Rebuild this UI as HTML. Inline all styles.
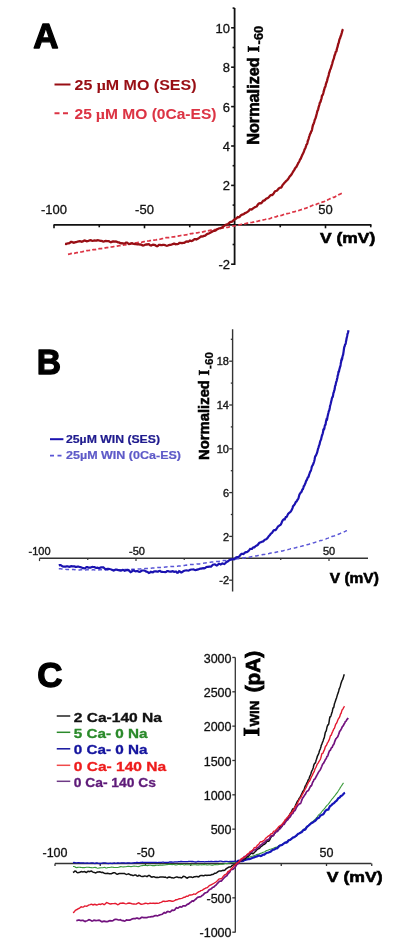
<!DOCTYPE html>
<html><head><meta charset="utf-8"><title>Figure</title><style>
html,body{margin:0;padding:0;background:#fff;}
svg{display:block;will-change:transform;}
text{font-family:"Liberation Sans",sans-serif;}
.big{font-size:35px;font-weight:bold;fill:#000;stroke:#000;stroke-width:1.3px;stroke-linejoin:round;}
.legA{font-size:14px;font-weight:bold;stroke:currentColor;stroke-width:0.05px;}
.legB{font-size:11px;font-weight:bold;stroke:currentColor;stroke-width:0.2px;}
.legC{font-size:12.4px;font-weight:bold;stroke:currentColor;stroke-width:0.3px;}
.mu{font-family:"Liberation Serif",serif;}
.tickA{font-size:13px;fill:#111;stroke:#111;stroke-width:0.3px;}
.tickB{font-size:11px;fill:#1a1a1a;stroke:#1a1a1a;stroke-width:0.4px;}
.tickC{font-size:12.5px;fill:#111;stroke:#111;stroke-width:0.3px;}
.vlab{font-size:15.5px;font-weight:bold;fill:#000;stroke:#000;stroke-width:0.6px;}
.vlabB{font-size:14px;font-weight:bold;fill:#000;stroke:#000;stroke-width:0.55px;}
.ylabA{font-size:16px;font-weight:bold;fill:#000;stroke:#000;stroke-width:0.6px;}
.serifI{font-family:"Liberation Serif",serif;font-weight:bold;font-size:16.5px;stroke:#000;stroke-width:0.6px;}
.subA{font-size:12.5px;font-weight:bold;stroke:#000;stroke-width:0.3px;}
.ylabB{font-size:14px;font-weight:bold;fill:#000;stroke:#000;stroke-width:0.55px;}
.serifIB{font-family:"Liberation Serif",serif;font-weight:bold;font-size:15px;stroke:#000;stroke-width:0.5px;}
.subB{font-size:10.5px;font-weight:bold;stroke:#000;stroke-width:0.25px;}
.ylabC{font-size:20px;font-weight:bold;fill:#000;stroke:#000;stroke-width:0.8px;}
.serifIC{font-family:"Liberation Serif",serif;font-weight:bold;font-size:23px;stroke:#000;stroke-width:0.9px;}
.subC{font-size:12.5px;font-weight:bold;stroke:#000;stroke-width:0.5px;}
</style></head>
<body><svg width="400" height="949" viewBox="0 0 400 949">
<rect width="400" height="949" fill="#fff"/>
<text x="33.2" y="47.6" class="big">A</text>
<line x1="54.5" y1="84.5" x2="70.5" y2="84.5" stroke="#980e14" stroke-width="2"/>
<text x="74.5" y="89.8" class="legA" fill="#980e14" color="#980e14" textLength="122" lengthAdjust="spacingAndGlyphs">25 <tspan class="mu">μ</tspan>M MO (SES)</text>
<line x1="54.5" y1="113.2" x2="70.5" y2="113.2" stroke="#dc3444" stroke-width="2" stroke-dasharray="5,3.5"/>
<text x="74.5" y="118.6" class="legA" fill="#dc3444" color="#dc3444" textLength="142" lengthAdjust="spacingAndGlyphs">25 <tspan class="mu">μ</tspan>M MO (0Ca-ES)</text>
<line x1="234.6" y1="8" x2="234.6" y2="265" stroke="#111" stroke-width="1.8"/>
<line x1="53.6" y1="224.8" x2="371.4" y2="224.8" stroke="#111" stroke-width="1.8"/>
<line x1="231.1" y1="27.80" x2="234.6" y2="27.80" stroke="#111" stroke-width="1.6"/><line x1="231.1" y1="67.20" x2="234.6" y2="67.20" stroke="#111" stroke-width="1.6"/><line x1="231.1" y1="106.60" x2="234.6" y2="106.60" stroke="#111" stroke-width="1.6"/><line x1="231.1" y1="146.00" x2="234.6" y2="146.00" stroke="#111" stroke-width="1.6"/><line x1="231.1" y1="185.40" x2="234.6" y2="185.40" stroke="#111" stroke-width="1.6"/><line x1="231.1" y1="264.20" x2="234.6" y2="264.20" stroke="#111" stroke-width="1.6"/>
<line x1="232.6" y1="8.10" x2="234.6" y2="8.10" stroke="#111" stroke-width="1.6"/><line x1="232.6" y1="47.50" x2="234.6" y2="47.50" stroke="#111" stroke-width="1.6"/><line x1="232.6" y1="86.90" x2="234.6" y2="86.90" stroke="#111" stroke-width="1.6"/><line x1="232.6" y1="126.30" x2="234.6" y2="126.30" stroke="#111" stroke-width="1.6"/><line x1="232.6" y1="165.70" x2="234.6" y2="165.70" stroke="#111" stroke-width="1.6"/><line x1="232.6" y1="205.10" x2="234.6" y2="205.10" stroke="#111" stroke-width="1.6"/><line x1="232.6" y1="244.50" x2="234.6" y2="244.50" stroke="#111" stroke-width="1.6"/>
<line x1="54.00" y1="224.8" x2="54.00" y2="228.3" stroke="#111" stroke-width="1.6"/><line x1="144.50" y1="224.8" x2="144.50" y2="228.3" stroke="#111" stroke-width="1.6"/><line x1="325.50" y1="224.8" x2="325.50" y2="228.3" stroke="#111" stroke-width="1.6"/>
<line x1="99.25" y1="224.8" x2="99.25" y2="227.3" stroke="#111" stroke-width="1.6"/><line x1="189.75" y1="224.8" x2="189.75" y2="227.3" stroke="#111" stroke-width="1.6"/><line x1="280.25" y1="224.8" x2="280.25" y2="227.3" stroke="#111" stroke-width="1.6"/><line x1="370.75" y1="224.8" x2="370.75" y2="227.3" stroke="#111" stroke-width="1.6"/>
<text x="230" y="32.70" class="tickA" text-anchor="end">10</text>
<text x="230" y="72.10" class="tickA" text-anchor="end">8</text>
<text x="230" y="111.50" class="tickA" text-anchor="end">6</text>
<text x="230" y="150.90" class="tickA" text-anchor="end">4</text>
<text x="230" y="190.30" class="tickA" text-anchor="end">2</text>
<text x="230" y="269.10" class="tickA" text-anchor="end">-2</text>
<text x="54.00" y="213.8" class="tickA" text-anchor="middle">-100</text>
<text x="144.50" y="213.8" class="tickA" text-anchor="middle">-50</text>
<text x="325.50" y="213.8" class="tickA" text-anchor="middle">50</text>
<text x="320" y="243.2" class="vlab" textLength="55.2" lengthAdjust="spacingAndGlyphs">V (mV)</text>
<g transform="translate(258.6,144) rotate(-90)"><text x="-0.8" y="0" class="ylabA" textLength="87.5" lengthAdjust="spacingAndGlyphs">Normalized</text><text x="91.8" y="0" class="serifI">I</text><text x="99.6" y="3.9" class="subA" textLength="18.6" lengthAdjust="spacingAndGlyphs">-60</text></g>
<polyline points="68.0,254.3 69.0,254.1 70.0,253.9 70.9,253.6 71.9,253.4 72.9,253.3 73.9,253.3 74.9,253.2 75.8,252.9 76.8,252.7 77.8,252.6 78.8,252.5 79.8,252.2 80.7,252.0 81.7,251.9 82.7,251.7 83.7,251.4 84.7,251.2 85.6,250.9 86.6,250.7 87.6,250.6 88.6,250.5 89.6,250.4 90.6,250.4 91.6,250.3 92.5,249.9 93.5,249.6 94.5,249.5 95.5,249.6 96.5,249.3 97.5,249.1 98.5,248.9 99.4,248.7 100.4,248.7 101.4,248.6 102.4,248.4 103.4,248.3 104.4,248.2 105.4,247.9 106.4,247.7 107.4,247.6 108.3,247.4 109.3,247.2 110.3,247.2 111.3,247.0 112.3,246.8 113.3,246.7 114.3,246.5 115.3,246.4 116.3,246.4 117.3,246.1 118.3,245.8 119.3,245.7 120.3,245.6 121.2,245.4 122.2,245.3 123.2,245.1 124.2,245.0 125.2,244.9 126.2,244.6 127.2,244.4 128.2,244.2 129.2,244.0 130.2,243.8 131.2,243.6 132.2,243.6 133.2,243.6 134.2,243.4 135.2,243.0 136.2,242.8 137.2,242.7 138.2,242.4 139.2,242.3 140.2,242.3 141.1,242.3 142.1,242.1 143.1,241.8 144.1,241.6 145.1,241.5 146.1,241.5 147.1,241.2 148.1,241.0 149.1,240.9 150.1,240.7 151.1,240.4 152.1,240.2 153.1,240.1 154.1,240.1 155.1,240.0 156.1,239.9 157.1,239.6 158.1,239.5 159.1,239.3 160.1,239.2 161.1,239.0 162.1,238.7 163.1,238.5 164.1,238.3 165.1,238.0 166.1,237.7 167.1,237.7 168.1,237.6 169.1,237.7 170.1,237.6 171.1,237.3 172.1,237.0 173.1,236.9 174.1,236.8 175.1,236.6 176.1,236.4 177.1,236.4 178.1,236.1 179.0,235.8 180.0,235.7 181.0,235.5 182.0,235.3 183.0,235.2 184.0,235.1 185.0,235.0 186.0,234.8 187.0,234.6 188.0,234.3 189.0,234.1 190.0,233.8 191.0,233.7 192.0,233.6 193.0,233.4 194.0,233.2 195.0,233.1 196.0,233.0 197.0,232.8 198.0,232.7 199.0,232.5 200.0,232.2 201.0,232.3 201.9,232.2 202.9,231.9 203.9,231.6 204.9,231.3 205.9,231.2 206.9,231.1 207.9,230.9 208.9,230.6 209.9,230.4 210.9,230.2 211.9,230.1 212.9,230.1 213.9,229.9 214.8,229.7 215.8,229.5 216.8,229.2 217.8,229.0 218.8,228.8 219.8,228.7 220.8,228.5 221.8,228.2 222.8,227.9 223.7,227.9 224.7,227.9 225.7,227.5 226.7,227.3 227.7,227.3 228.7,227.1 229.7,226.7 230.7,226.5 231.6,226.3 232.6,226.0 233.6,226.0 234.6,225.9 235.6,225.6 236.6,225.4 237.5,225.2 238.5,225.0 239.5,224.8 240.5,224.5 241.5,224.3 242.5,224.3 243.4,224.1 244.4,223.9 245.4,223.7 246.4,223.4 247.4,223.2 248.3,223.1 249.3,222.8 250.3,222.6 251.3,222.5 252.2,222.4 253.2,222.2 254.2,221.9 255.2,221.5 256.1,221.3 257.1,221.3 258.1,221.1 259.1,220.8 260.0,220.6 261.0,220.5 262.0,220.3 263.0,220.0 263.9,219.7 264.9,219.5 265.9,219.2 266.8,219.0 267.8,218.9 268.8,218.8 269.7,218.6 270.7,218.3 271.7,217.7 272.6,217.4 273.6,217.3 274.6,217.0 275.5,216.9 276.5,216.6 277.5,216.1 278.4,215.8 279.4,215.8 280.4,215.6 281.3,215.4 282.3,215.1 283.2,214.7 284.2,214.4 285.2,214.2 286.1,213.9 287.1,213.6 288.0,213.5 289.0,213.3 289.9,213.0 290.9,212.6 291.8,212.3 292.8,212.0 293.8,211.8 294.7,211.6 295.7,211.3 296.6,211.1 297.6,210.9 298.5,210.6 299.5,210.2 300.4,209.9 301.3,209.6 302.3,209.2 303.2,208.8 304.2,208.6 305.1,208.4 306.1,208.1 307.0,207.7 308.0,207.4 308.9,207.2 309.8,206.7 310.8,206.1 311.7,205.8 312.7,205.3 313.6,204.9 314.5,204.9 315.5,204.8 316.4,204.4 317.3,203.8 318.3,203.5 319.2,203.4 320.1,203.0 321.1,202.6 322.0,202.2 322.9,201.9 323.9,201.6 324.8,201.2 325.7,200.7 326.6,200.2 327.6,199.9 328.5,199.5 329.4,199.1 330.3,198.6 331.3,198.2 332.2,197.8 333.1,197.4 334.0,197.3 334.9,196.9 335.9,196.3 336.8,195.9 337.7,195.3 338.6,194.7 339.5,194.4 340.4,194.1 341.3,193.5 342.2,193.0 343.2,192.6" fill="none" stroke="#dc3444" stroke-width="1.7" stroke-dasharray="4,2.2"/>
<polyline points="65.0,243.9 66.0,244.0 66.9,243.6 67.9,243.4 68.9,243.3 69.9,242.7 70.9,241.9 71.8,241.9 72.8,242.5 73.8,242.7 74.8,242.4 75.8,242.1 76.8,241.8 77.7,241.5 78.7,241.3 79.7,241.1 80.7,241.4 81.7,241.7 82.7,241.4 83.7,240.9 84.7,240.5 85.7,240.8 86.7,241.3 87.7,241.2 88.7,240.8 89.7,240.4 90.7,240.2 91.7,240.6 92.7,240.9 93.7,240.7 94.7,240.5 95.7,240.6 96.7,240.5 97.7,240.2 98.7,240.3 99.7,240.7 100.7,240.9 101.7,240.9 102.7,241.3 103.7,241.6 104.8,241.2 105.8,241.0 106.8,241.2 107.8,241.2 108.8,241.2 109.8,241.8 110.8,242.3 111.8,241.9 112.8,241.5 113.8,241.5 114.9,241.7 115.9,241.5 116.9,241.8 117.9,242.3 118.9,242.4 119.9,242.9 120.9,243.3 121.9,243.1 122.9,243.3 124.0,243.6 125.0,243.2 126.0,242.6 127.0,242.6 128.0,243.3 129.0,244.1 130.0,243.9 131.0,243.3 132.0,243.2 133.0,243.6 134.0,243.9 135.1,244.0 136.1,244.2 137.1,244.3 138.1,244.2 139.1,244.4 140.1,244.5 141.1,244.7 142.1,245.1 143.1,245.6 144.1,245.3 145.1,244.7 146.1,244.4 147.1,244.5 148.1,244.2 149.1,244.4 150.1,245.3 151.1,245.6 152.1,245.0 153.1,244.6 154.1,244.8 155.1,245.1 156.0,245.8 157.0,246.3 158.0,245.7 159.0,244.9 160.0,244.8 161.0,245.1 162.0,245.1 162.9,244.9 163.9,244.9 164.9,245.0 165.9,245.5 166.9,245.8 167.8,245.5 168.8,245.1 169.8,244.9 170.8,244.8 171.7,244.5 172.7,244.2 173.7,243.7 174.6,243.7 175.6,244.2 176.6,244.1 177.5,244.1 178.5,243.8 179.4,242.9 180.4,242.8 181.3,243.1 182.3,243.0 183.2,242.8 184.2,242.8 185.1,242.3 186.1,241.5 187.0,241.4 188.0,241.7 188.9,241.2 189.9,240.6 190.8,240.9 191.7,241.1 192.7,240.6 193.6,239.8 194.5,239.1 195.5,239.1 196.4,239.5 197.3,239.1 198.2,238.5 199.2,237.9 200.1,237.1 201.0,236.5 201.9,236.5 202.9,236.4 203.8,235.9 204.7,235.8 205.6,235.3 206.5,234.4 207.4,233.9 208.4,233.7 209.3,233.3 210.2,232.8 211.1,232.3 212.0,231.8 212.9,231.2 213.8,230.7 214.7,230.8 215.6,230.5 216.5,229.6 217.4,229.2 218.3,228.7 219.2,228.3 220.1,228.2 221.0,227.9 221.9,227.5 222.8,226.7 223.7,226.2 224.6,225.6 225.5,225.0 226.3,224.7 227.2,224.4 228.1,223.9 229.0,223.1 229.9,222.3 230.8,221.9 231.6,221.8 232.5,221.3 233.4,220.4 234.3,219.6 235.2,219.0 236.0,218.7 236.9,217.9 237.8,217.1 238.7,217.3 239.5,217.0 240.4,215.8 241.3,215.0 242.2,214.6 243.0,214.3 243.9,214.0 244.8,213.3 245.6,212.8 246.5,212.5 247.4,211.9 248.2,211.3 249.1,210.4 249.9,209.4 250.8,209.3 251.7,209.5 252.5,208.9 253.4,208.2 254.2,207.6 255.1,207.1 255.9,206.8 256.8,206.4 257.6,205.0 258.5,203.9 259.3,203.3 260.1,203.1 261.0,203.2 261.8,202.7 262.6,201.5 263.4,200.6 264.2,200.6 265.0,200.1 265.9,198.9 266.7,198.5 267.5,198.2 268.3,197.7 269.0,196.9 269.8,196.0 270.6,195.2 271.4,194.9 272.2,195.1 272.9,194.5 273.7,193.3 274.4,192.1 275.2,191.3 275.9,191.0 276.7,190.8 277.4,190.1 278.1,189.3 278.8,188.5 279.6,188.0 280.3,187.7 281.0,187.6 281.6,187.0 282.3,185.6 283.0,184.5 283.7,183.8 284.3,183.0 285.0,182.3 285.6,181.6 286.3,180.9 286.9,180.5 287.5,179.8 288.1,179.0 288.7,178.1 289.3,177.0 289.9,176.2 290.5,175.6 291.1,174.9 291.6,174.3 292.2,173.3 292.7,172.3 293.3,171.5 293.8,170.5 294.3,169.8 294.8,168.9 295.3,167.9 295.8,167.5 296.3,167.0 296.8,166.0 297.3,165.0 297.8,164.0 298.2,163.0 298.7,162.3 299.2,161.5 299.6,160.6 300.0,159.6 300.5,159.0 300.9,158.3 301.3,157.2 301.7,156.3 302.1,155.3 302.6,154.2 303.0,153.6 303.3,152.9 303.7,152.0 304.1,150.9 304.5,149.7 304.9,148.9 305.3,148.3 305.6,147.4 306.0,146.1 306.3,144.9 306.7,144.4 307.1,144.0 307.4,143.0 307.7,141.4 308.1,140.1 308.4,139.6 308.8,138.2 309.1,136.8 309.4,136.1 309.8,135.0 310.1,133.9 310.4,133.5 310.7,133.0 311.0,131.9 311.4,131.2 311.7,130.8 312.0,129.7 312.3,128.1 312.6,126.6 312.9,125.4 313.2,124.6 313.5,124.1 313.8,123.3 314.1,122.3 314.4,121.3 314.7,120.0 315.1,119.1 315.4,118.5 315.7,117.7 316.0,116.7 316.3,115.5 316.6,114.3 316.9,113.2 317.2,111.8 317.5,110.7 317.8,110.3 318.1,109.6 318.4,108.3 318.7,106.9 319.0,106.0 319.3,105.1 319.6,103.8 319.9,102.6 320.2,102.3 320.5,102.0 320.8,100.9 321.1,99.6 321.4,98.8 321.7,97.6 321.9,96.0 322.2,95.5 322.5,95.2 322.8,94.6 323.1,93.9 323.4,92.8 323.7,91.4 324.0,90.4 324.3,89.4 324.6,88.1 324.9,87.3 325.2,86.9 325.5,86.1 325.8,84.6 326.1,83.4 326.4,82.7 326.7,82.0 327.0,81.0 327.3,79.9 327.6,78.5 327.9,77.4 328.2,76.7 328.4,76.2 328.7,75.0 329.0,73.3 329.3,72.3 329.6,71.8 329.9,70.5 330.2,69.5 330.5,69.2 330.8,68.5 331.1,67.3 331.4,66.3 331.7,65.5 332.0,64.5 332.3,63.5 332.6,62.1 332.9,61.0 333.2,60.2 333.5,59.4 333.8,58.7 334.1,57.6 334.3,56.4 334.6,55.5 334.9,54.8 335.2,53.9 335.5,52.7 335.8,51.8 336.1,51.6 336.4,51.3 336.7,50.1 337.0,48.5 337.3,47.5 337.6,46.7 337.9,45.3 338.2,43.9 338.5,43.2 338.8,42.4 339.1,40.9 339.4,39.5 339.7,38.8 340.0,38.4 340.3,37.4 340.6,36.5 340.9,35.8 341.2,34.9 341.5,33.8 341.8,32.8 342.1,31.6 342.4,30.5 342.7,29.7 343.0,29.2" fill="none" stroke="#980e14" stroke-width="2.3"/>
<text x="36.8" y="374" class="big" transform="translate(36.8,0) scale(0.96,1) translate(-36.8,0)">B</text>
<line x1="50" y1="439.2" x2="63.4" y2="439.2" stroke="#1a12b0" stroke-width="2"/>
<text x="66" y="443.2" class="legB" fill="#1f1b8e" color="#1f1b8e" textLength="94" lengthAdjust="spacingAndGlyphs">25µM WIN (SES)</text>
<line x1="50" y1="455.6" x2="63.4" y2="455.6" stroke="#5a56d6" stroke-width="1.6" stroke-dasharray="4,3.5"/>
<text x="66" y="459.2" class="legB" fill="#5e5ac8" color="#5e5ac8" textLength="115" lengthAdjust="spacingAndGlyphs">25µM WIN (0Ca-ES)</text>
<line x1="232.6" y1="329.2" x2="232.6" y2="591.5" stroke="#333" stroke-width="1.4"/>
<line x1="39.5" y1="558.3" x2="368" y2="558.3" stroke="#333" stroke-width="1.4"/>
<line x1="229.2" y1="361.20" x2="232.2" y2="361.20" stroke="#333" stroke-width="1.3"/><line x1="229.2" y1="405.00" x2="232.2" y2="405.00" stroke="#333" stroke-width="1.3"/><line x1="229.2" y1="448.80" x2="232.2" y2="448.80" stroke="#333" stroke-width="1.3"/><line x1="229.2" y1="492.60" x2="232.2" y2="492.60" stroke="#333" stroke-width="1.3"/><line x1="229.2" y1="536.40" x2="232.2" y2="536.40" stroke="#333" stroke-width="1.3"/><line x1="229.2" y1="580.20" x2="232.2" y2="580.20" stroke="#333" stroke-width="1.3"/>
<line x1="230.79999999999998" y1="339.30" x2="232.2" y2="339.30" stroke="#333" stroke-width="1.3"/><line x1="230.79999999999998" y1="383.10" x2="232.2" y2="383.10" stroke="#333" stroke-width="1.3"/><line x1="230.79999999999998" y1="426.90" x2="232.2" y2="426.90" stroke="#333" stroke-width="1.3"/><line x1="230.79999999999998" y1="470.70" x2="232.2" y2="470.70" stroke="#333" stroke-width="1.3"/><line x1="230.79999999999998" y1="514.50" x2="232.2" y2="514.50" stroke="#333" stroke-width="1.3"/>
<line x1="39.50" y1="558.3" x2="39.50" y2="561.0999999999999" stroke="#333" stroke-width="1.2"/><line x1="136.00" y1="558.3" x2="136.00" y2="561.0999999999999" stroke="#333" stroke-width="1.2"/><line x1="329.00" y1="558.3" x2="329.00" y2="561.0999999999999" stroke="#333" stroke-width="1.2"/>
<line x1="87.75" y1="558.3" x2="87.75" y2="560.0999999999999" stroke="#333" stroke-width="1.2"/><line x1="184.25" y1="558.3" x2="184.25" y2="560.0999999999999" stroke="#333" stroke-width="1.2"/><line x1="280.75" y1="558.3" x2="280.75" y2="560.0999999999999" stroke="#333" stroke-width="1.2"/>
<text x="229" y="365.40" class="tickB" text-anchor="end">18</text>
<text x="229" y="409.20" class="tickB" text-anchor="end">14</text>
<text x="229" y="453.00" class="tickB" text-anchor="end">10</text>
<text x="229" y="496.80" class="tickB" text-anchor="end">6</text>
<text x="229" y="540.60" class="tickB" text-anchor="end">2</text>
<text x="229" y="584.40" class="tickB" text-anchor="end">-2</text>
<text x="39.5" y="554.7" class="tickB" text-anchor="middle">-100</text>
<text x="137" y="554.7" class="tickB" text-anchor="middle">-50</text>
<text x="329" y="554.7" class="tickB" text-anchor="middle">50</text>
<text x="329.8" y="583.3" class="vlabB" textLength="49" lengthAdjust="spacingAndGlyphs">V (mV)</text>
<g transform="translate(209,459.2) rotate(-90)"><text x="-0.7" y="0" class="ylabB" textLength="79.8" lengthAdjust="spacingAndGlyphs">Normalized</text><text x="83.8" y="0" class="serifIB">I</text><text x="90.3" y="3.8" class="subB" textLength="16.8" lengthAdjust="spacingAndGlyphs">-60</text></g>
<polyline points="58.8,568.7 59.8,568.7 60.8,568.8 61.8,568.9 62.8,569.0 63.7,568.9 64.7,568.9 65.7,569.2 66.7,569.4 67.7,569.4 68.7,569.4 69.7,569.5 70.7,569.6 71.8,569.5 72.8,569.5 73.8,569.6 74.8,569.7 75.8,569.6 76.8,569.7 77.8,569.9 78.8,569.9 79.8,569.9 80.8,569.7 81.8,569.7 82.8,569.8 83.8,569.9 84.8,569.9 85.8,569.9 86.8,569.8 87.8,569.8 88.8,569.8 89.8,569.9 90.8,569.9 91.8,569.9 92.8,569.8 93.8,569.8 94.8,570.0 95.8,570.1 96.8,570.2 97.8,570.2 98.8,570.0 99.8,569.8 100.9,569.8 101.9,569.8 102.9,569.9 103.9,569.9 104.9,569.8 105.9,569.8 106.9,569.9 107.9,569.9 108.9,569.9 109.9,569.9 110.9,569.9 111.9,569.8 112.9,569.7 113.9,569.7 114.9,569.8 116.0,570.0 117.0,570.1 118.0,570.0 119.0,569.8 120.0,569.7 121.0,569.8 122.0,569.7 123.0,569.6 124.0,569.6 125.0,569.5 126.0,569.5 127.0,569.4 128.0,569.3 129.0,569.4 130.1,569.5 131.1,569.4 132.1,569.3 133.1,569.3 134.1,569.2 135.1,569.1 136.1,569.1 137.1,569.1 138.1,569.0 139.1,569.0 140.1,569.0 141.1,568.8 142.1,568.7 143.2,568.7 144.2,568.7 145.2,568.4 146.2,568.4 147.2,568.4 148.2,568.5 149.2,568.5 150.2,568.3 151.2,568.2 152.2,568.1 153.2,568.0 154.2,567.9 155.2,567.9 156.3,567.7 157.3,567.5 158.3,567.5 159.3,567.5 160.3,567.4 161.3,567.5 162.3,567.5 163.3,567.5 164.3,567.2 165.3,567.0 166.3,566.9 167.3,566.8 168.3,566.8 169.3,566.8 170.4,566.6 171.4,566.5 172.4,566.5 173.4,566.5 174.4,566.4 175.4,566.3 176.4,566.2 177.4,566.2 178.4,566.1 179.4,566.0 180.4,565.9 181.4,565.7 182.4,565.5 183.4,565.4 184.4,565.4 185.4,565.2 186.4,565.1 187.4,565.2 188.5,565.0 189.5,564.7 190.5,564.5 191.5,564.5 192.5,564.5 193.5,564.4 194.5,564.3 195.5,564.2 196.5,564.1 197.5,563.9 198.5,563.9 199.5,563.9 200.5,563.8 201.5,563.5 202.5,563.3 203.5,563.2 204.5,563.1 205.5,562.9 206.5,562.8 207.5,562.7 208.5,562.5 209.5,562.4 210.5,562.2 211.5,562.0 212.5,561.9 213.5,561.9 214.5,561.9 215.5,561.7 216.5,561.5 217.5,561.4 218.5,561.5 219.5,561.3 220.5,561.1 221.5,560.9 222.5,560.8 223.5,560.6 224.5,560.4 225.5,560.4 226.5,560.4 227.5,560.3 228.5,560.1 229.5,559.9 230.5,559.8 231.5,559.6 232.4,559.5 233.4,559.6 234.4,559.3 235.4,559.0 236.4,558.9 237.4,558.8 238.4,558.7 239.4,558.4 240.4,558.1 241.4,558.1 242.4,558.0 243.4,557.9 244.4,557.8 245.4,557.7 246.3,557.4 247.3,557.2 248.3,557.2 249.3,557.2 250.3,556.9 251.3,556.7 252.3,556.5 253.3,556.4 254.3,556.1 255.2,555.9 256.2,555.9 257.2,555.7 258.2,555.5 259.2,555.3 260.2,555.1 261.2,554.9 262.1,554.7 263.1,554.5 264.1,554.4 265.1,554.3 266.1,554.0 267.1,553.8 268.1,553.7 269.0,553.5 270.0,553.2 271.0,553.1 272.0,553.1 273.0,553.1 273.9,552.8 274.9,552.5 275.9,552.2 276.9,552.0 277.9,551.8 278.8,551.6 279.8,551.4 280.8,551.2 281.8,551.0 282.7,550.9 283.7,550.6 284.7,550.3 285.7,550.1 286.6,549.9 287.6,549.7 288.6,549.4 289.6,549.1 290.5,548.8 291.5,548.8 292.5,548.6 293.5,548.3 294.4,548.1 295.4,547.9 296.4,547.5 297.3,547.2 298.3,547.1 299.3,546.8 300.2,546.5 301.2,546.3 302.2,546.0 303.1,545.7 304.1,545.6 305.1,545.2 306.0,544.9 307.0,544.7 308.0,544.6 308.9,544.3 309.9,543.9 310.9,543.7 311.8,543.4 312.8,543.0 313.7,542.8 314.7,542.5 315.7,542.1 316.6,541.8 317.6,541.6 318.5,541.2 319.5,540.9 320.5,540.6 321.4,540.4 322.4,540.1 323.3,539.8 324.3,539.5 325.2,539.2 326.2,538.9 327.1,538.4 328.1,538.1 329.0,537.8 330.0,537.6 330.9,537.2 331.9,536.5 332.8,536.2 333.8,536.0 334.7,535.7 335.7,535.3 336.6,534.9 337.6,534.6 338.5,534.2 339.5,533.8 340.4,533.4 341.4,532.9 342.3,532.5 343.2,532.2 344.2,531.8 345.1,531.4 346.1,530.9 347.0,530.6" fill="none" stroke="#5a56d6" stroke-width="1.5" stroke-dasharray="3.8,2.8"/>
<polyline points="58.8,565.4 59.7,565.1 60.7,565.1 61.7,565.8 62.7,566.5 63.7,566.6 64.7,566.5 65.6,566.6 66.6,566.4 67.6,566.3 68.6,566.7 69.6,566.8 70.6,566.4 71.5,566.2 72.5,566.4 73.5,566.3 74.5,566.4 75.5,566.8 76.5,566.9 77.5,566.7 78.5,566.6 79.5,567.0 80.5,567.1 81.5,567.4 82.4,568.0 83.4,568.1 84.4,568.3 85.4,568.0 86.4,567.2 87.4,567.2 88.4,567.6 89.4,567.7 90.4,567.7 91.4,567.3 92.4,566.9 93.4,567.0 94.4,567.1 95.4,567.6 96.4,567.8 97.4,567.7 98.4,568.1 99.4,568.2 100.4,567.6 101.4,567.3 102.4,567.4 103.4,567.4 104.4,568.3 105.4,569.2 106.4,569.0 107.5,568.8 108.5,568.8 109.5,569.0 110.5,569.3 111.5,569.5 112.5,570.1 113.5,570.5 114.5,570.2 115.5,569.6 116.5,569.6 117.5,569.9 118.5,570.2 119.5,570.4 120.6,570.7 121.6,570.5 122.6,569.8 123.6,570.0 124.6,570.7 125.6,570.4 126.6,570.1 127.6,570.1 128.6,570.1 129.6,571.1 130.7,572.2 131.7,571.7 132.7,570.6 133.7,570.4 134.7,571.0 135.7,571.4 136.7,571.0 137.7,571.0 138.8,571.8 139.8,571.9 140.8,571.3 141.8,570.6 142.8,570.5 143.8,570.5 144.8,570.7 145.8,571.4 146.9,571.7 147.9,572.2 148.9,573.0 149.9,572.5 150.9,571.8 151.9,572.2 152.9,572.4 153.9,571.6 155.0,571.3 156.0,571.3 157.0,571.6 158.0,571.7 159.0,571.0 160.0,570.9 161.0,571.6 162.0,571.8 163.1,572.0 164.1,572.0 165.1,572.1 166.1,571.9 167.1,571.2 168.1,571.2 169.1,571.5 170.1,571.7 171.2,571.7 172.2,571.2 173.2,571.4 174.2,571.9 175.2,571.7 176.2,571.7 177.2,572.7 178.2,572.5 179.2,571.2 180.2,571.6 181.2,572.5 182.3,572.0 183.3,571.2 184.3,570.7 185.3,570.5 186.3,570.4 187.3,570.5 188.3,570.6 189.3,570.3 190.3,569.7 191.3,569.5 192.3,569.5 193.3,569.4 194.3,569.7 195.3,570.1 196.3,569.9 197.3,569.6 198.2,569.4 199.2,569.0 200.2,568.7 201.2,568.6 202.2,568.4 203.2,568.2 204.2,568.4 205.1,568.0 206.1,567.2 207.1,566.9 208.1,566.8 209.0,566.7 210.0,566.7 211.0,566.7 211.9,565.7 212.9,564.7 213.9,564.5 214.8,564.4 215.8,565.0 216.8,565.5 217.7,564.9 218.7,563.8 219.6,563.8 220.6,564.4 221.5,564.0 222.4,563.4 223.4,563.8 224.3,564.1 225.3,563.3 226.2,562.2 227.1,561.8 228.0,561.3 229.0,560.4 229.9,559.8 230.8,559.6 231.7,559.2 232.6,559.0 233.6,559.4 234.5,559.3 235.4,558.1 236.3,557.3 237.2,557.2 238.1,557.1 238.9,556.7 239.8,555.7 240.7,554.6 241.6,553.9 242.5,553.8 243.4,554.1 244.2,553.5 245.1,552.5 246.0,552.2 246.8,552.1 247.7,551.7 248.5,550.9 249.4,549.9 250.2,548.9 251.1,549.0 251.9,548.9 252.7,547.8 253.5,547.3 254.4,547.3 255.2,546.5 256.0,545.8 256.8,545.4 257.6,545.0 258.4,544.0 259.2,543.0 260.0,542.6 260.8,542.2 261.6,541.7 262.4,541.6 263.1,541.4 263.9,540.7 264.7,539.8 265.4,539.5 266.2,539.3 266.9,538.7 267.7,537.9 268.4,536.6 269.2,535.8 269.9,535.1 270.6,534.0 271.3,533.4 272.1,532.8 272.8,531.7 273.5,530.6 274.2,530.2 274.9,530.2 275.5,530.1 276.2,529.4 276.9,528.3 277.6,527.1 278.2,526.4 278.9,525.9 279.6,525.3 280.2,525.0 280.8,524.6 281.5,523.0 282.1,521.4 282.7,520.4 283.4,519.6 284.0,519.3 284.6,519.5 285.2,518.4 285.8,517.1 286.4,517.0 286.9,516.6 287.5,515.1 288.1,513.9 288.7,513.3 289.2,512.9 289.8,512.5 290.3,512.0 290.9,511.3 291.4,510.5 291.9,509.6 292.5,508.1 293.0,506.4 293.5,505.8 294.0,505.3 294.5,504.5 295.0,503.8 295.5,502.6 296.0,501.7 296.5,501.6 297.0,500.8 297.5,499.7 298.0,499.1 298.5,498.2 298.9,496.5 299.4,494.6 299.8,493.9 300.3,493.4 300.7,492.6 301.2,492.3 301.6,491.7 302.1,490.2 302.5,489.3 302.9,489.1 303.4,487.6 303.8,486.2 304.2,485.8 304.6,485.0 305.0,483.9 305.4,483.2 305.8,481.9 306.2,480.8 306.6,480.3 307.0,479.6 307.4,478.4 307.8,477.5 308.2,477.2 308.6,476.7 308.9,475.3 309.3,474.2 309.7,473.0 310.1,471.9 310.4,471.4 310.8,470.7 311.1,469.8 311.5,468.3 311.8,466.8 312.2,465.9 312.5,465.4 312.9,464.9 313.2,464.1 313.6,463.0 313.9,462.2 314.2,461.3 314.6,459.5 314.9,457.6 315.2,456.3 315.5,456.0 315.9,455.7 316.2,454.8 316.5,454.0 316.8,453.5 317.1,452.7 317.4,451.4 317.8,449.8 318.1,448.6 318.4,447.8 318.7,446.7 319.0,445.6 319.3,445.0 319.6,444.2 319.9,442.5 320.2,441.4 320.5,440.6 320.8,440.0 321.1,439.3 321.3,438.3 321.6,437.0 321.9,435.7 322.2,435.1 322.5,434.2 322.8,433.3 323.1,431.8 323.3,429.9 323.6,429.3 323.9,429.5 324.2,429.0 324.5,427.8 324.7,426.1 325.0,425.1 325.3,425.0 325.6,424.5 325.8,422.7 326.1,421.0 326.4,419.9 326.6,420.1 326.9,420.0 327.2,418.7 327.4,417.4 327.7,415.9 328.0,414.6 328.2,413.7 328.5,412.4 328.7,411.4 329.0,411.0 329.3,410.3 329.5,409.2 329.8,407.9 330.0,406.3 330.3,405.1 330.5,404.5 330.8,403.3 331.1,401.9 331.3,401.0 331.6,400.1 331.8,398.8 332.1,397.7 332.3,397.1 332.6,396.9 332.8,396.8 333.0,395.8 333.3,393.8 333.5,392.8 333.8,392.4 334.0,391.3 334.3,390.5 334.5,389.9 334.8,388.3 335.0,386.5 335.2,385.7 335.5,385.4 335.7,384.4 336.0,382.8 336.2,381.9 336.4,381.7 336.7,380.8 336.9,379.6 337.1,378.9 337.4,377.7 337.6,376.0 337.8,375.3 338.1,374.8 338.3,373.2 338.5,371.7 338.8,371.5 339.0,371.5 339.2,370.3 339.5,368.9 339.7,368.4 339.9,367.3 340.2,366.5 340.4,366.1 340.6,364.9 340.8,363.2 341.1,361.9 341.3,361.1 341.5,359.5 341.8,358.7 342.0,359.2 342.2,358.7 342.4,357.1 342.7,355.7 342.9,355.2 343.1,354.8 343.3,353.5 343.6,351.6 343.8,350.0 344.0,348.8 344.2,347.3 344.5,346.5 344.7,346.2 344.9,345.3 345.1,344.5 345.4,344.2 345.6,343.9 345.8,342.9 346.0,341.4 346.3,340.3 346.5,338.8 346.7,337.9 346.9,337.1 347.2,335.7 347.4,334.4 347.6,333.6 347.8,333.3 348.0,332.8 348.3,331.3 348.5,330.2" fill="none" stroke="#1a12b0" stroke-width="2.2"/>
<text x="37.2" y="687" class="big">C</text>
<line x1="56.75" y1="716.00" x2="70.25" y2="716.00" stroke="#222" stroke-width="1.5"/>
<text x="73.7" y="721.5" class="legC" fill="#111" color="#111" textLength="88.3" lengthAdjust="spacingAndGlyphs">2 Ca-140 Na</text>
<line x1="56.75" y1="732.30" x2="70.25" y2="732.30" stroke="#2b8a2b" stroke-width="1.5"/>
<text x="73.7" y="737.8" class="legC" fill="#2a8a2a" color="#2a8a2a" textLength="73.8" lengthAdjust="spacingAndGlyphs">5 Ca- 0 Na</text>
<line x1="56.75" y1="748.80" x2="70.25" y2="748.80" stroke="#14149e" stroke-width="1.5"/>
<text x="73.7" y="754.3" class="legC" fill="#14149e" color="#14149e" textLength="73.8" lengthAdjust="spacingAndGlyphs">0 Ca- 0 Na</text>
<line x1="56.75" y1="765.30" x2="70.25" y2="765.30" stroke="#f04a4a" stroke-width="1.5"/>
<text x="73.7" y="770.8" class="legC" fill="#ee1c1c" color="#ee1c1c" textLength="92.5" lengthAdjust="spacingAndGlyphs">0 Ca- 140 Na</text>
<line x1="56.75" y1="781.30" x2="70.25" y2="781.30" stroke="#6e3a86" stroke-width="1.5"/>
<text x="73.7" y="786.8" class="legC" fill="#5e1a78" color="#5e1a78" textLength="82.3" lengthAdjust="spacingAndGlyphs">0 Ca- 140 Cs</text>
<line x1="235.3" y1="657.5" x2="235.3" y2="932.6" stroke="#333" stroke-width="1.3"/>
<line x1="55" y1="863.5" x2="371.4" y2="863.5" stroke="#333" stroke-width="1.3"/>
<line x1="232.3" y1="657.46" x2="235.3" y2="657.46" stroke="#333" stroke-width="1.3"/><line x1="232.3" y1="691.80" x2="235.3" y2="691.80" stroke="#333" stroke-width="1.3"/><line x1="232.3" y1="726.14" x2="235.3" y2="726.14" stroke="#333" stroke-width="1.3"/><line x1="232.3" y1="760.48" x2="235.3" y2="760.48" stroke="#333" stroke-width="1.3"/><line x1="232.3" y1="794.82" x2="235.3" y2="794.82" stroke="#333" stroke-width="1.3"/><line x1="232.3" y1="829.16" x2="235.3" y2="829.16" stroke="#333" stroke-width="1.3"/><line x1="232.3" y1="863.50" x2="235.3" y2="863.50" stroke="#333" stroke-width="1.3"/><line x1="232.3" y1="897.84" x2="235.3" y2="897.84" stroke="#333" stroke-width="1.3"/><line x1="232.3" y1="932.18" x2="235.3" y2="932.18" stroke="#333" stroke-width="1.3"/>
<line x1="55.00" y1="863.5" x2="55.00" y2="866.0" stroke="#333" stroke-width="1.3"/><line x1="100.25" y1="863.5" x2="100.25" y2="866.0" stroke="#333" stroke-width="1.3"/><line x1="145.50" y1="863.5" x2="145.50" y2="866.0" stroke="#333" stroke-width="1.3"/><line x1="190.75" y1="863.5" x2="190.75" y2="866.0" stroke="#333" stroke-width="1.3"/><line x1="281.25" y1="863.5" x2="281.25" y2="866.0" stroke="#333" stroke-width="1.3"/><line x1="326.50" y1="863.5" x2="326.50" y2="866.0" stroke="#333" stroke-width="1.3"/><line x1="371.75" y1="863.5" x2="371.75" y2="866.0" stroke="#333" stroke-width="1.3"/>
<text x="231.5" y="662.56" class="tickC" text-anchor="end">3000</text>
<text x="231.5" y="696.90" class="tickC" text-anchor="end">2500</text>
<text x="231.5" y="731.24" class="tickC" text-anchor="end">2000</text>
<text x="231.5" y="765.58" class="tickC" text-anchor="end">1500</text>
<text x="231.5" y="799.92" class="tickC" text-anchor="end">1000</text>
<text x="231.5" y="834.26" class="tickC" text-anchor="end">500</text>
<text x="231.5" y="902.94" class="tickC" text-anchor="end">-500</text>
<text x="231.5" y="937.28" class="tickC" text-anchor="end">-1000</text>
<text x="55" y="856.7" class="tickC" text-anchor="middle">-100</text>
<text x="145.7" y="856.7" class="tickC" text-anchor="middle">-50</text>
<text x="326.5" y="856.7" class="tickC" text-anchor="middle">50</text>
<text x="326.8" y="882.1" class="vlab" textLength="55.8" lengthAdjust="spacingAndGlyphs">V (mV)</text>
<g transform="translate(259.2,735.5) rotate(-90)"><text x="-0.7" y="0" class="serifIC">I</text><text x="9" y="0" class="subC" textLength="26" lengthAdjust="spacingAndGlyphs">WIN</text><text x="43.2" y="0.3" class="ylabC" textLength="41.5" lengthAdjust="spacingAndGlyphs">(pA)</text></g>
<polyline points="73.0,866.5 73.9,866.5 74.9,866.7 75.8,867.4 76.8,867.7 77.7,867.4 78.6,867.2 79.6,867.3 80.5,867.4 81.5,867.5 82.4,867.6 83.4,867.6 84.4,867.6 85.3,867.5 86.3,867.3 87.2,867.3 88.2,867.3 89.2,867.4 90.1,867.5 91.1,867.6 92.1,867.7 93.0,867.7 94.0,867.5 95.0,867.4 96.0,867.6 96.9,868.0 97.9,868.2 98.9,868.0 99.9,867.9 100.9,867.8 101.9,867.7 102.8,867.8 103.8,867.5 104.8,867.3 105.8,868.0 106.8,868.0 107.8,867.5 108.8,867.5 109.8,867.5 110.8,867.3 111.8,867.1 112.8,867.2 113.8,867.4 114.8,867.5 115.8,867.5 116.8,867.5 117.8,867.5 118.8,867.2 119.8,866.9 120.8,866.6 121.9,866.7 122.9,867.0 123.9,866.9 124.9,866.8 125.9,866.7 126.9,866.5 127.9,866.4 129.0,866.4 130.0,866.5 131.0,866.6 132.0,866.5 133.0,866.2 134.1,866.1 135.1,866.2 136.1,866.3 137.1,866.5 138.1,866.7 139.2,866.4 140.2,866.0 141.2,865.8 142.2,865.6 143.3,865.4 144.3,865.4 145.3,865.4 146.3,865.5 147.4,865.6 148.4,865.4 149.4,865.2 150.5,865.3 151.5,865.5 152.5,865.6 153.6,865.6 154.6,865.6 155.6,865.4 156.6,865.2 157.7,865.3 158.7,865.4 159.7,865.0 160.8,865.1 161.8,865.3 162.8,865.1 163.9,865.0 164.9,865.0 165.9,864.7 167.0,864.6 168.0,864.5 169.0,864.4 170.0,864.4 171.1,864.5 172.1,864.6 173.1,864.5 174.2,864.5 175.2,864.9 176.2,865.0 177.3,864.7 178.3,864.5 179.3,864.5 180.3,864.6 181.4,864.5 182.4,864.3 183.4,864.8 184.5,865.0 185.5,864.6 186.5,864.7 187.5,864.8 188.6,864.8 189.6,864.8 190.6,864.6 191.6,864.8 192.6,865.0 193.7,864.8 194.7,864.7 195.7,864.8 196.7,864.9 197.8,865.0 198.8,864.9 199.8,864.8 200.8,864.8 201.8,864.9 202.8,864.7 203.8,864.4 204.9,864.6 205.9,864.7 206.9,864.9 207.9,865.0 208.9,864.7 209.9,864.7 210.9,865.0 211.9,865.1 212.9,865.1 213.9,864.8 214.9,864.5 215.9,864.6 216.9,864.8 217.9,864.8 218.9,864.5 219.9,864.3 220.9,864.2 221.9,864.2 222.9,864.3 223.9,864.0 224.9,863.5 225.9,863.5 226.9,863.6 227.9,863.5 228.8,863.1 229.8,862.9 230.8,862.6 231.8,862.2 232.8,862.1 233.7,862.2 234.7,862.0 235.7,861.8 236.7,861.8 237.6,861.4 238.6,861.2 239.6,861.1 240.5,860.6 241.5,860.1 242.4,859.8 243.4,859.5 244.4,859.0 245.3,858.7 246.3,858.2 247.2,857.7 248.2,857.5 249.1,857.3 250.1,856.9 251.0,856.4 251.9,856.2 252.9,856.1 253.8,855.7 254.8,855.3 255.7,855.0 256.6,854.6 257.5,854.4 258.5,854.3 259.4,853.7 260.3,853.4 261.2,853.2 262.2,852.7 263.1,852.3 264.0,852.1 264.9,851.7 265.8,851.0 266.7,850.5 267.6,850.3 268.5,849.9 269.4,849.6 270.3,849.3 271.2,849.1 272.1,848.7 273.0,848.4 273.9,848.1 274.7,847.6 275.6,847.4 276.5,847.3 277.4,846.7 278.2,846.1 279.1,845.6 280.0,845.2 280.8,845.0 281.7,844.6 282.6,844.0 283.4,843.6 284.3,843.3 285.1,842.7 286.0,842.1 286.8,841.5 287.6,841.0 288.5,840.8 289.3,840.5 290.1,839.8 291.0,839.0 291.8,838.5 292.6,838.1 293.4,837.7 294.2,837.3 295.1,836.8 295.9,836.2 296.7,835.6 297.5,834.9 298.3,834.1 299.1,833.3 299.9,832.7 300.6,832.2 301.4,831.4 302.2,830.7 303.0,830.3 303.8,829.7 304.5,828.9 305.3,828.3 306.1,827.7 306.8,827.0 307.6,826.1 308.3,825.4 309.1,825.0 309.8,824.3 310.6,823.5 311.3,822.7 312.0,822.0 312.8,821.5 313.5,820.9 314.2,820.1 315.0,819.5 315.7,818.8 316.4,817.9 317.1,817.0 317.8,816.0 318.5,815.0 319.2,814.4 319.9,813.9 320.6,813.2 321.3,812.4 321.9,811.5 322.6,810.7 323.3,810.0 324.0,809.2 324.6,808.4 325.3,807.6 325.9,806.7 326.6,805.9 327.2,805.2 327.9,804.6 328.5,804.0 329.1,803.1 329.8,802.1 330.4,801.2 331.0,800.5 331.6,799.7 332.2,798.8 332.9,798.2 333.5,797.4 334.1,796.5 334.7,795.9 335.2,795.2 335.8,794.4 336.4,793.6 337.0,792.8 337.6,792.1 338.1,791.2 338.7,790.3 339.2,789.5 339.8,788.6 340.3,787.6 340.9,786.7 341.4,786.0 342.0,785.2 342.5,784.3 343.0,783.6 343.5,782.9" fill="none" stroke="#3a9a3a" stroke-width="1.1"/>
<polyline points="73.0,862.7 74.0,862.5 75.0,862.7 76.0,862.9 77.0,862.8 78.0,862.7 79.0,862.6 80.0,862.8 81.1,863.0 82.1,862.9 83.1,862.8 84.1,863.0 85.1,863.1 86.1,863.1 87.1,862.9 88.1,863.1 89.1,863.4 90.1,863.1 91.1,862.9 92.1,862.9 93.1,863.0 94.1,863.4 95.1,863.5 96.1,863.0 97.2,862.9 98.2,863.3 99.2,863.5 100.2,863.5 101.2,863.4 102.2,863.1 103.2,862.9 104.2,862.8 105.2,862.9 106.2,863.1 107.2,863.3 108.2,863.5 109.2,863.3 110.2,863.1 111.2,863.4 112.2,863.5 113.3,863.2 114.3,863.0 115.3,863.2 116.3,863.3 117.3,863.0 118.3,863.0 119.3,863.2 120.3,863.1 121.3,862.8 122.3,862.8 123.3,862.9 124.3,863.0 125.3,863.1 126.3,863.2 127.3,863.0 128.3,862.8 129.4,862.9 130.4,863.1 131.4,863.1 132.4,863.0 133.4,862.8 134.4,862.7 135.4,862.8 136.4,862.5 137.4,862.4 138.4,862.7 139.4,862.7 140.4,862.5 141.4,862.3 142.4,862.2 143.4,862.3 144.4,862.5 145.4,862.4 146.5,862.3 147.5,862.4 148.5,862.3 149.5,862.3 150.5,862.5 151.5,862.4 152.5,862.3 153.5,862.5 154.5,862.4 155.5,862.4 156.5,862.5 157.5,862.6 158.5,862.4 159.5,862.4 160.5,862.3 161.5,862.3 162.6,862.1 163.6,862.2 164.6,862.5 165.6,862.4 166.6,862.4 167.6,862.5 168.6,862.3 169.6,862.0 170.6,862.0 171.6,862.0 172.6,862.2 173.6,862.2 174.6,861.9 175.6,861.8 176.6,861.9 177.6,861.8 178.6,861.7 179.7,861.7 180.7,861.5 181.7,861.5 182.7,861.7 183.7,861.7 184.7,861.7 185.7,861.6 186.7,861.7 187.7,861.7 188.7,861.4 189.7,861.3 190.7,861.3 191.7,861.5 192.7,861.5 193.7,861.6 194.7,861.8 195.8,862.0 196.8,861.9 197.8,861.5 198.8,861.4 199.8,861.6 200.8,861.7 201.8,861.7 202.8,861.7 203.8,861.7 204.8,861.8 205.8,861.7 206.8,861.6 207.8,861.6 208.8,861.5 209.8,861.6 210.8,861.5 211.8,861.5 212.9,861.6 213.9,861.6 214.9,861.5 215.9,861.4 216.9,861.5 217.9,861.7 218.9,861.4 219.9,861.1 220.9,861.1 221.9,861.4 222.9,861.7 223.9,861.7 224.9,861.5 225.9,861.3 226.9,861.4 227.9,861.7 229.0,861.7 230.0,861.5 231.0,861.5 232.0,861.5 233.0,861.3 234.0,861.4 235.0,861.2 236.0,861.1" fill="none" stroke="#1515b8" stroke-width="1.3"/>
<polyline points="236.0,861.8 237.0,861.6 238.1,860.9 239.1,860.7 240.1,861.2 241.1,861.2 242.1,861.1 243.1,860.9 244.1,860.3 245.1,860.0 246.1,859.7 247.1,859.3 248.1,859.1 249.1,859.1 250.1,859.0 251.1,858.6 252.1,858.0 253.0,857.7 254.0,857.4 255.0,856.9 255.9,856.6 256.9,856.4 257.8,856.0 258.8,855.7 259.7,855.7 260.7,856.0 261.6,855.8 262.5,854.9 263.5,854.6 264.4,854.6 265.3,853.8 266.3,853.1 267.2,852.7 268.1,852.6 269.0,852.3 269.9,851.9 270.8,851.5 271.7,850.6 272.6,849.9 273.5,849.7 274.4,849.5 275.3,848.9 276.2,848.3 277.1,848.3 278.0,847.6 278.8,846.5 279.7,845.7 280.6,845.3 281.5,845.1 282.3,844.7 283.2,844.0 284.0,843.4 284.9,842.8 285.8,842.4 286.6,842.5 287.5,841.9 288.3,840.6 289.1,840.1 290.0,839.9 290.8,839.3 291.7,838.6 292.5,837.9 293.3,837.4 294.2,837.2 295.0,836.7 295.8,836.0 296.6,835.4 297.4,834.5 298.3,833.7 299.1,833.5 299.9,833.1 300.7,832.5 301.5,832.2 302.3,831.5 303.1,830.2 303.9,829.7 304.7,829.9 305.5,829.2 306.3,827.7 307.1,826.7 307.9,826.2 308.7,825.5 309.4,824.8 310.2,824.2 311.0,823.4 311.8,822.9 312.5,822.8 313.3,822.0 314.1,821.4 314.9,821.1 315.6,820.4 316.4,819.5 317.2,818.6 317.9,818.1 318.7,818.0 319.4,817.1 320.2,815.8 320.9,815.3 321.7,815.0 322.5,814.6 323.2,814.3 323.9,813.3 324.7,812.0 325.4,810.9 326.2,810.2 326.9,809.8 327.7,809.7 328.4,809.5 329.1,807.9 329.9,806.3 330.6,805.8 331.3,805.4 332.1,804.5 332.8,803.7 333.5,803.4 334.2,803.0 335.0,802.1 335.7,801.3 336.4,800.9 337.1,800.0 337.9,798.9 338.6,798.0 339.3,797.7 340.0,797.2 340.7,796.2 341.4,795.8 342.2,795.4 342.9,794.6 343.6,793.7 344.3,793.1 345.0,792.8" fill="none" stroke="#1515b8" stroke-width="2.2"/>
<polyline points="73.0,872.5 74.0,871.9 74.9,871.1 75.9,871.3 76.9,872.4 77.8,872.8 78.8,872.6 79.8,872.3 80.7,871.8 81.7,871.6 82.7,871.9 83.7,871.7 84.6,871.5 85.6,872.2 86.6,872.4 87.6,871.4 88.5,871.2 89.5,871.7 90.5,871.3 91.5,871.1 92.5,871.9 93.5,872.2 94.5,872.4 95.4,872.9 96.4,872.5 97.4,872.0 98.4,872.0 99.4,871.8 100.4,872.0 101.4,872.4 102.4,872.3 103.4,872.6 104.4,873.4 105.4,873.6 106.4,873.4 107.4,873.3 108.4,873.5 109.4,873.7 110.4,873.8 111.4,873.7 112.4,873.2 113.4,872.8 114.5,872.7 115.5,873.2 116.5,874.0 117.5,874.2 118.5,873.8 119.5,873.6 120.5,873.6 121.5,873.4 122.5,873.5 123.6,873.6 124.6,873.6 125.6,874.1 126.6,874.4 127.6,874.1 128.6,873.8 129.6,874.3 130.7,875.0 131.7,875.1 132.7,875.5 133.7,875.6 134.7,874.9 135.8,874.9 136.8,875.9 137.8,876.2 138.8,875.4 139.8,875.5 140.8,876.1 141.9,876.5 142.9,876.6 143.9,876.2 144.9,875.9 145.9,876.1 147.0,876.6 148.0,875.9 149.0,875.3 150.0,875.9 151.0,876.8 152.0,877.2 153.1,876.8 154.1,876.7 155.1,877.3 156.1,877.5 157.1,877.3 158.1,877.4 159.2,877.3 160.2,877.0 161.2,877.0 162.2,876.9 163.2,877.0 164.2,877.2 165.2,877.1 166.3,877.6 167.3,877.9 168.3,877.3 169.3,877.0 170.3,877.2 171.3,877.7 172.3,877.8 173.3,877.9 174.3,877.7 175.3,877.4 176.3,877.1 177.3,877.0 178.3,877.4 179.3,877.5 180.3,877.5 181.3,877.9 182.3,877.3 183.3,876.3 184.3,876.4 185.3,876.8 186.3,877.8 187.3,878.2 188.3,877.4 189.3,876.9 190.3,876.9 191.3,877.1 192.3,877.4 193.3,877.2 194.2,876.8 195.2,876.8 196.2,876.5 197.2,876.5 198.2,876.9 199.2,876.5 200.1,875.7 201.1,875.4 202.1,875.5 203.1,875.8 204.0,875.7 205.0,875.2 206.0,875.3 206.9,875.5 207.9,875.3 208.9,875.3 209.8,875.3 210.8,875.0 211.7,874.6 212.7,874.6 213.6,874.1 214.6,873.2 215.5,873.2 216.5,872.9 217.4,872.2 218.4,871.4 219.3,870.9 220.2,870.9 221.2,871.0 222.1,870.6 223.0,870.3 224.0,870.5 224.9,870.1 225.8,869.1 226.7,868.4 227.6,867.8 228.5,867.3 229.5,867.1 230.4,867.0 231.3,866.3 232.2,865.5 233.1,865.1 234.0,864.8 234.8,865.0 235.7,865.1 236.6,864.3 237.5,862.9 238.4,861.7 239.3,860.9 240.1,860.8 241.0,860.9 241.9,860.4 242.7,859.8 243.6,859.3 244.4,859.1 245.3,858.8 246.1,857.8 247.0,856.8 247.8,856.5 248.6,856.1 249.5,855.1 250.3,854.1 251.1,853.4 251.9,853.1 252.7,853.7 253.5,853.6 254.3,852.4 255.1,851.7 255.9,850.9 256.7,849.8 257.5,849.3 258.3,848.7 259.1,848.5 259.8,848.0 260.6,846.8 261.4,846.3 262.1,846.0 262.9,845.1 263.6,844.7 264.4,844.3 265.1,843.6 265.9,842.9 266.6,841.9 267.3,840.9 268.0,841.2 268.7,841.3 269.4,840.3 270.2,838.9 270.8,837.5 271.5,836.6 272.2,836.0 272.9,835.5 273.6,835.1 274.3,834.1 274.9,833.0 275.6,832.0 276.2,831.7 276.9,831.3 277.5,830.2 278.2,829.9 278.8,829.5 279.4,828.1 280.1,826.8 280.7,826.6 281.3,826.9 281.9,826.5 282.5,825.0 283.1,823.5 283.7,822.9 284.3,822.4 284.9,821.6 285.5,821.4 286.0,820.8 286.6,819.5 287.2,818.7 287.7,818.2 288.3,817.3 288.8,816.0 289.4,815.3 289.9,814.2 290.5,813.1 291.0,812.4 291.5,811.5 292.1,810.2 292.6,809.1 293.1,808.9 293.6,809.2 294.1,808.8 294.6,807.6 295.2,806.4 295.6,805.1 296.1,804.1 296.6,803.2 297.1,801.9 297.6,801.0 298.1,800.5 298.6,799.5 299.0,798.6 299.5,798.0 300.0,797.4 300.4,796.7 300.9,795.6 301.4,794.5 301.8,793.6 302.3,792.6 302.7,791.5 303.1,790.9 303.6,790.5 304.0,789.9 304.4,788.6 304.9,786.9 305.3,785.9 305.7,785.4 306.1,784.6 306.6,783.5 307.0,782.7 307.4,782.2 307.8,781.0 308.2,779.9 308.6,779.7 309.0,778.8 309.4,777.4 309.8,776.4 310.2,775.5 310.6,774.8 311.0,773.5 311.3,772.2 311.7,771.2 312.1,770.4 312.5,769.8 312.8,769.0 313.2,767.9 313.6,766.0 314.0,764.5 314.3,764.0 314.7,763.4 315.0,763.1 315.4,762.8 315.8,761.5 316.1,760.2 316.5,759.2 316.8,758.2 317.2,757.1 317.5,756.0 317.8,755.3 318.2,754.9 318.5,754.0 318.9,753.0 319.2,751.8 319.5,750.7 319.9,749.8 320.2,749.1 320.5,748.3 320.9,747.0 321.2,745.5 321.5,744.8 321.8,744.4 322.2,743.1 322.5,742.1 322.8,741.8 323.1,740.9 323.5,739.5 323.8,738.6 324.1,738.1 324.4,736.9 324.7,735.5 325.0,734.0 325.3,732.4 325.7,731.6 326.0,731.3 326.3,730.6 326.6,729.1 326.9,727.6 327.2,726.6 327.5,725.8 327.8,725.0 328.1,724.8 328.4,724.8 328.7,724.1 329.0,722.4 329.3,720.4 329.6,718.5 329.9,717.0 330.2,716.8 330.5,716.8 330.8,716.3 331.1,715.4 331.4,714.3 331.7,713.3 332.0,712.6 332.3,711.5 332.6,709.8 332.9,708.4 333.2,707.8 333.5,707.8 333.8,707.2 334.1,705.6 334.4,704.0 334.7,703.1 335.0,702.3 335.3,701.4 335.6,700.5 335.9,699.6 336.2,698.7 336.5,697.9 336.8,696.9 337.2,695.6 337.5,694.6 337.8,693.8 338.1,693.1 338.4,692.1 338.7,691.0 339.0,689.7 339.3,688.6 339.6,688.1 339.9,687.2 340.2,686.5 340.5,685.4 340.9,683.7 341.2,682.8 341.5,682.1 341.8,681.1 342.1,680.3 342.4,679.9 342.8,679.1 343.1,678.1 343.4,677.1 343.7,676.1 344.0,675.1 344.4,674.3" fill="none" stroke="#121212" stroke-width="1.5"/>
<polyline points="76.3,920.7 77.2,920.5 78.2,920.1 79.2,920.0 80.2,920.4 81.1,920.6 82.1,920.3 83.1,920.3 84.1,921.1 85.1,921.6 86.1,921.0 87.0,920.7 88.0,920.3 89.0,919.7 90.0,920.0 91.0,920.6 92.0,921.0 93.0,920.7 94.0,920.2 95.0,920.4 96.0,920.6 97.0,920.5 98.0,920.3 99.0,920.1 100.0,920.5 101.0,921.3 102.0,921.8 103.1,921.4 104.1,921.2 105.1,921.4 106.1,921.6 107.1,921.7 108.1,921.4 109.1,920.8 110.1,920.7 111.2,920.8 112.2,920.8 113.2,920.5 114.2,919.8 115.2,919.3 116.2,919.3 117.2,919.5 118.3,920.0 119.3,920.0 120.3,919.7 121.3,920.3 122.3,920.7 123.3,920.7 124.4,921.1 125.4,920.8 126.4,920.0 127.4,920.1 128.4,920.2 129.4,920.1 130.4,919.9 131.5,919.3 132.5,918.8 133.5,918.7 134.5,918.7 135.5,918.6 136.5,918.1 137.5,918.2 138.5,918.7 139.5,918.7 140.5,918.2 141.5,917.4 142.5,917.3 143.5,917.6 144.5,917.6 145.5,917.6 146.5,917.7 147.5,917.4 148.5,917.0 149.5,917.0 150.5,916.8 151.5,916.6 152.5,916.7 153.5,916.5 154.4,915.9 155.4,915.7 156.4,915.7 157.4,915.8 158.3,915.5 159.3,915.1 160.3,914.8 161.3,914.5 162.2,914.3 163.2,913.3 164.2,912.6 165.1,913.1 166.1,912.7 167.0,911.8 168.0,911.5 168.9,911.7 169.9,912.1 170.8,911.3 171.8,910.3 172.7,910.2 173.6,910.3 174.6,910.1 175.5,908.8 176.4,907.8 177.4,908.1 178.3,908.0 179.2,907.1 180.1,906.6 181.0,907.1 181.9,907.0 182.8,906.0 183.7,905.8 184.6,905.8 185.5,905.9 186.4,905.1 187.3,904.3 188.2,904.1 189.1,903.5 189.9,902.7 190.8,902.3 191.7,901.3 192.6,900.9 193.4,901.2 194.3,900.5 195.1,899.6 196.0,899.0 196.8,898.0 197.7,897.3 198.5,897.2 199.3,896.9 200.1,896.9 201.0,896.5 201.8,895.7 202.6,895.3 203.4,894.6 204.2,893.7 205.0,893.1 205.8,892.7 206.6,892.5 207.4,892.0 208.2,890.9 209.0,889.9 209.8,889.5 210.6,889.1 211.4,888.7 212.1,887.9 212.9,887.2 213.7,887.1 214.4,886.5 215.2,885.6 216.0,885.1 216.7,884.2 217.5,883.4 218.2,882.7 219.0,881.8 219.7,881.2 220.5,881.0 221.2,881.1 221.9,880.4 222.7,879.3 223.4,878.7 224.1,877.8 224.8,877.1 225.6,876.5 226.3,876.1 227.0,875.7 227.7,874.2 228.4,873.0 229.2,872.7 229.9,871.8 230.6,870.2 231.3,869.2 232.0,869.5 232.7,869.5 233.4,868.8 234.1,868.3 234.8,867.5 235.6,866.4 236.3,865.4 237.0,864.3 237.7,863.7 238.4,863.5 239.2,862.4 239.9,861.2 240.6,860.8 241.4,860.1 242.1,859.3 242.9,858.8 243.6,857.8 244.4,856.6 245.1,856.5 245.9,856.4 246.7,855.4 247.5,854.9 248.3,854.8 249.1,853.9 249.9,852.7 250.7,852.2 251.5,852.1 252.3,851.6 253.1,850.5 253.9,849.8 254.7,850.0 255.6,849.8 256.4,848.7 257.2,847.8 258.0,847.4 258.8,847.0 259.6,846.3 260.4,845.2 261.2,844.7 262.0,844.1 262.8,843.3 263.5,843.0 264.3,842.5 265.1,841.8 265.8,841.0 266.6,840.1 267.4,839.8 268.1,839.6 268.8,839.1 269.6,838.3 270.3,836.8 271.1,835.9 271.8,835.9 272.5,836.0 273.2,835.8 273.9,834.5 274.6,833.3 275.4,832.6 276.1,831.5 276.8,831.0 277.4,831.4 278.1,830.6 278.8,829.6 279.5,829.1 280.2,828.6 280.8,827.7 281.5,826.6 282.2,825.1 282.8,824.3 283.5,824.6 284.2,824.3 284.8,823.1 285.5,822.0 286.1,821.0 286.7,820.4 287.4,820.1 288.0,819.4 288.6,818.4 289.3,817.7 289.9,817.1 290.5,816.2 291.1,815.1 291.7,813.9 292.3,813.7 292.9,813.4 293.5,811.9 294.1,811.0 294.7,810.7 295.3,810.0 295.9,808.7 296.5,807.3 297.1,806.6 297.7,805.6 298.2,804.8 298.8,804.5 299.4,803.8 299.9,803.7 300.5,803.6 301.1,802.3 301.6,800.6 302.2,799.2 302.7,798.0 303.3,797.2 303.9,796.3 304.4,795.5 304.9,794.8 305.5,794.0 306.0,792.9 306.6,791.7 307.1,791.2 307.6,791.0 308.2,790.5 308.7,790.0 309.2,789.0 309.7,787.8 310.3,786.7 310.8,785.9 311.3,785.9 311.8,785.0 312.3,783.2 312.8,782.0 313.4,781.1 313.9,779.8 314.4,779.2 314.9,779.1 315.4,778.1 315.9,777.1 316.4,776.3 316.9,775.2 317.4,774.3 317.9,773.3 318.4,772.4 318.9,771.6 319.3,771.0 319.8,770.5 320.3,769.7 320.8,768.7 321.3,767.5 321.8,766.3 322.3,765.0 322.7,764.0 323.2,763.7 323.7,763.0 324.2,761.9 324.7,761.2 325.1,760.2 325.6,759.3 326.1,758.7 326.6,757.5 327.0,756.4 327.5,756.2 328.0,755.3 328.4,753.7 328.9,752.2 329.4,751.0 329.9,750.5 330.3,750.3 330.8,749.2 331.3,748.0 331.7,747.6 332.2,747.3 332.7,746.0 333.1,745.0 333.6,744.6 334.1,743.7 334.5,742.3 335.0,740.9 335.5,739.6 335.9,738.8 336.4,738.3 336.8,737.8 337.3,737.2 337.8,736.5 338.2,735.5 338.7,734.3 339.2,732.7 339.6,731.4 340.1,730.9 340.6,730.2 341.0,729.4 341.5,728.6 342.0,727.4 342.4,726.6 342.9,726.2 343.4,725.5 343.8,724.5 344.3,723.8 344.8,722.8 345.3,721.6 345.7,721.4 346.2,721.0 346.7,719.8 347.1,719.2 347.6,718.9 348.1,717.8" fill="none" stroke="#72127e" stroke-width="1.7"/>
<polyline points="72.9,912.5 73.8,912.3 74.6,911.4 75.4,910.3 76.2,909.8 77.0,909.5 77.9,908.9 78.7,908.5 79.6,908.2 80.4,907.3 81.3,906.8 82.2,907.1 83.1,907.1 83.9,906.6 84.8,906.0 85.7,906.1 86.6,906.3 87.5,905.9 88.5,905.2 89.4,904.9 90.3,904.7 91.2,904.2 92.1,904.5 93.1,904.9 94.0,904.5 95.0,904.3 95.9,904.8 96.9,905.0 97.8,904.7 98.8,904.1 99.8,904.2 100.7,904.4 101.7,903.9 102.7,903.8 103.7,904.5 104.7,904.5 105.6,903.4 106.6,902.6 107.6,902.8 108.6,903.3 109.6,903.8 110.6,904.0 111.6,903.8 112.6,903.6 113.7,903.6 114.7,903.5 115.7,903.5 116.7,904.0 117.7,904.8 118.7,904.4 119.8,903.5 120.8,903.2 121.8,903.2 122.9,903.0 123.9,903.2 124.9,903.6 126.0,903.9 127.0,903.7 128.0,903.2 129.1,903.0 130.1,903.2 131.1,903.5 132.2,903.9 133.2,904.0 134.2,904.0 135.3,904.1 136.3,904.0 137.4,903.5 138.4,902.8 139.4,903.1 140.5,904.0 141.5,904.3 142.6,904.1 143.6,903.8 144.6,903.5 145.7,903.2 146.7,903.4 147.7,903.7 148.8,903.6 149.8,903.3 150.8,903.2 151.8,903.4 152.9,903.2 153.9,903.1 154.9,903.5 155.9,903.3 157.0,903.1 158.0,903.4 159.0,903.2 160.0,902.7 161.0,902.4 162.0,901.9 163.0,901.3 164.0,901.3 165.0,901.5 166.0,901.4 167.0,901.3 168.0,901.0 169.0,900.7 170.0,900.8 171.0,901.0 171.9,901.2 172.9,901.2 173.9,900.8 174.9,900.3 175.8,899.8 176.8,899.7 177.8,899.4 178.7,898.9 179.7,898.7 180.6,898.6 181.6,898.4 182.5,898.1 183.5,897.5 184.4,897.2 185.4,897.0 186.3,896.3 187.2,896.3 188.2,896.2 189.1,895.1 190.0,895.0 190.9,895.0 191.8,894.9 192.7,894.7 193.7,893.9 194.6,894.1 195.5,894.3 196.4,893.5 197.3,892.7 198.2,892.1 199.0,891.7 199.9,891.3 200.8,890.6 201.7,890.4 202.6,890.1 203.4,889.3 204.3,888.8 205.2,888.4 206.0,887.9 206.9,887.9 207.7,887.2 208.6,886.2 209.4,885.7 210.3,885.2 211.1,884.8 211.9,884.4 212.8,884.0 213.6,883.5 214.4,883.0 215.2,882.5 216.0,882.0 216.8,881.3 217.7,880.4 218.5,879.5 219.2,878.9 220.0,878.9 220.8,878.8 221.6,878.5 222.4,877.6 223.2,876.4 224.0,875.5 224.7,874.9 225.5,874.4 226.3,874.1 227.0,873.2 227.8,871.8 228.5,871.2 229.3,871.1 230.1,870.2 230.8,869.4 231.6,868.8 232.3,867.9 233.1,866.9 233.8,865.9 234.6,865.1 235.3,864.8 236.1,864.0 236.8,863.1 237.6,862.7 238.3,862.3 239.0,861.6 239.8,860.5 240.5,859.6 241.3,858.9 242.0,858.3 242.8,858.0 243.5,857.6 244.3,857.2 245.0,856.9 245.8,856.1 246.6,855.1 247.3,854.2 248.1,853.6 248.8,853.3 249.6,852.5 250.4,851.4 251.1,851.1 251.9,850.7 252.7,850.1 253.4,849.1 254.2,847.8 255.0,847.4 255.8,847.5 256.5,846.6 257.3,845.4 258.1,845.0 258.8,844.2 259.6,842.8 260.4,841.9 261.1,841.8 261.9,841.8 262.7,841.4 263.4,840.7 264.2,840.3 264.9,839.4 265.7,838.2 266.5,837.7 267.2,837.1 268.0,836.3 268.7,835.9 269.5,835.5 270.2,834.7 270.9,833.8 271.7,833.7 272.4,833.6 273.1,832.2 273.9,831.1 274.6,831.1 275.3,830.8 276.0,829.9 276.7,829.0 277.5,828.5 278.2,827.5 278.9,826.5 279.6,826.0 280.2,825.7 280.9,825.4 281.6,824.7 282.3,823.9 282.9,823.2 283.6,822.5 284.3,821.5 284.9,820.1 285.6,819.3 286.2,819.0 286.8,818.0 287.5,817.3 288.1,816.7 288.7,815.9 289.3,815.3 289.9,814.5 290.5,813.2 291.1,813.2 291.7,813.0 292.2,811.7 292.8,810.6 293.4,810.2 293.9,809.3 294.5,807.8 295.0,806.9 295.6,806.3 296.1,805.5 296.6,804.8 297.2,803.8 297.7,802.7 298.2,801.7 298.7,800.6 299.3,799.7 299.8,799.0 300.3,798.0 300.8,797.3 301.3,796.8 301.8,795.6 302.2,794.4 302.7,793.8 303.2,792.9 303.7,792.0 304.2,791.2 304.6,790.3 305.1,789.3 305.6,788.2 306.1,787.7 306.5,786.8 307.0,785.2 307.4,784.4 307.9,783.7 308.4,782.3 308.8,781.7 309.3,781.5 309.7,780.7 310.2,779.9 310.6,778.8 311.1,777.6 311.5,776.7 312.0,776.0 312.4,775.2 312.8,774.1 313.3,773.0 313.7,772.2 314.2,771.6 314.6,770.4 315.0,768.9 315.5,768.0 315.9,767.3 316.4,766.3 316.8,765.2 317.2,764.2 317.7,763.6 318.1,763.1 318.5,762.4 318.9,761.6 319.4,760.9 319.8,760.1 320.2,759.6 320.7,758.4 321.1,756.8 321.5,755.1 321.9,753.7 322.3,753.4 322.8,753.3 323.2,752.5 323.6,751.4 324.0,750.6 324.5,749.7 324.9,748.2 325.3,746.8 325.7,746.2 326.1,745.8 326.5,745.1 327.0,743.9 327.4,742.9 327.8,742.4 328.2,741.8 328.6,740.9 329.0,740.1 329.5,739.1 329.9,737.6 330.3,736.1 330.7,735.4 331.1,735.3 331.5,734.5 331.9,733.2 332.4,732.1 332.8,731.3 333.2,730.4 333.6,729.3 334.0,728.7 334.4,728.4 334.8,727.1 335.3,725.5 335.7,724.3 336.1,723.7 336.5,723.4 336.9,722.6 337.3,721.4 337.7,720.3 338.2,719.2 338.6,718.4 339.0,718.0 339.4,717.5 339.8,716.6 340.2,715.0 340.6,713.9 341.1,713.3 341.5,711.9 341.9,710.5 342.3,709.7 342.7,709.3 343.2,708.5 343.6,707.7 344.0,707.0 344.4,706.1" fill="none" stroke="#e41a30" stroke-width="1.4"/>
</svg></body></html>
